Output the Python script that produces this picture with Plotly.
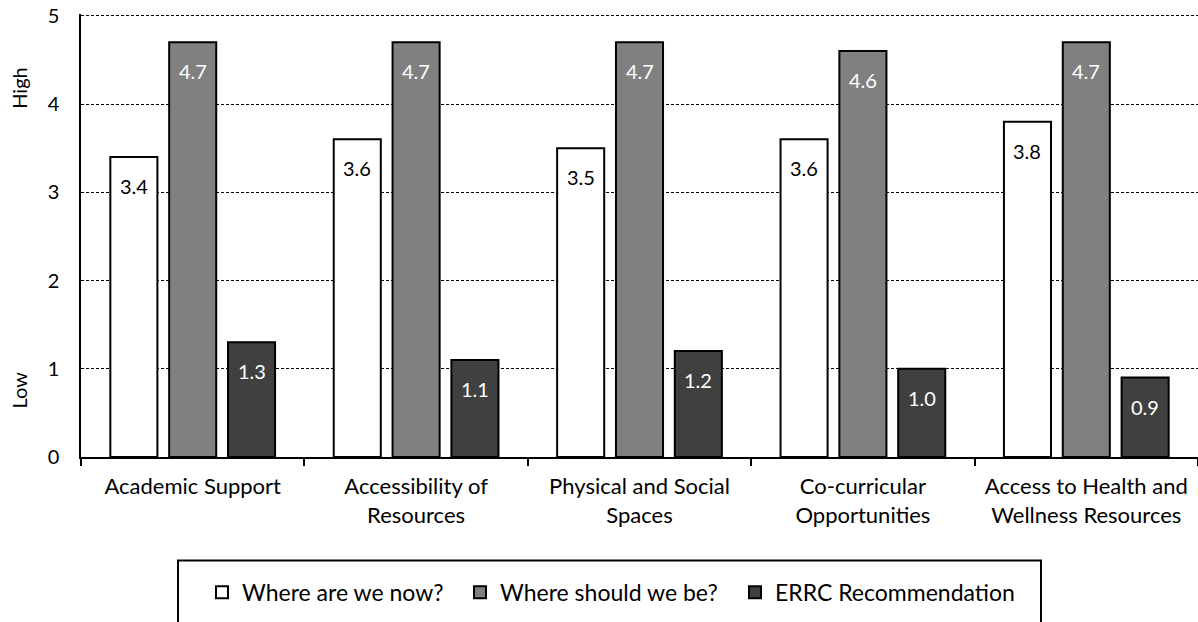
import plotly.graph_objects as go

categories = [
    "Academic Support",
    "Accessibility of<br>Resources",
    "Physical and Social<br>Spaces",
    "Co-curricular<br>Opportunities",
    "Access to Health and<br>Wellness Resources",
]
series_names = ["Where are we now?", "Where should we be?", "ERRC Recommendation"]
now_vals = [3.4, 3.6, 3.5, 3.6, 3.8]
should_vals = [4.7, 4.7, 4.7, 4.6, 4.7]
errc_vals = [1.3, 1.1, 1.2, 1.0, 0.9]
y_ticks = [0, 1, 2, 3, 4, 5]

series_vals = [now_vals, should_vals, errc_vals]
fills = ["#ffffff", "#808080", "#404040"]
label_colors = ["#000000", "#ffffff", "#ffffff"]

FONT = "Lato"
W, H = 1198, 622
Y_MAX = 5.02
ML, MR = 81, 0
MT, MB = 14.2, 164.5
BARGAP, GROUPGAP = 0.21, 0.2

plot_w = W - ML - MR
plot_h = H - MT - MB

def py(pix):  # page pixel y -> paper y
    return (H - MB - pix) / plot_h

def px(pix):  # page pixel x -> paper x
    return (pix - ML) / plot_w

legend_ids = ["legend", "legend2", "legend3"]
legend_left = [202, 460, 735]

fig = go.Figure()
for name, vals, col, lid in zip(series_names, series_vals, fills, legend_ids):
    fig.add_trace(go.Bar(
        x=categories, y=vals, name=name, legend=lid,
        marker=dict(color=col, line=dict(color="#000000", width=2)),
        hoverinfo="skip",
    ))

# value labels placed inside bars, near the top
cat_w = plot_w / len(categories)
slot = (1 - BARGAP) * cat_w / len(series_names)
ann = []
for j, (vals, tc) in enumerate(zip(series_vals, label_colors)):
    xs = (j - (len(series_names) - 1) / 2) * slot
    for c, v in zip(categories, vals):
        ann.append(dict(x=c, y=v, xref="x", yref="y", text=f"{v:.1f}",
                        showarrow=False, xshift=xs, yshift=-29,
                        yanchor="middle", xanchor="center",
                        font=dict(family=FONT, size=20, color=tc)))

ann.append(dict(text="High", textangle=-90, xref="paper", yref="paper",
                x=px(19), y=py(89), xanchor="center", yanchor="middle",
                showarrow=False, font=dict(family=FONT, size=20, color="#000")))
ann.append(dict(text="Low", textangle=-90, xref="paper", yref="paper",
                x=px(19), y=py(391), xanchor="center", yanchor="middle",
                showarrow=False, font=dict(family=FONT, size=20, color="#000")))

legends = {}
for lid, lx in zip(legend_ids, legend_left):
    legends[lid] = dict(orientation="h", x=px(lx), xanchor="left", y=py(593), yanchor="middle",
                        font=dict(family=FONT, size=23, color="#000"),
                        bgcolor="rgba(0,0,0,0)", borderwidth=0)

fig.update_layout(
    width=W, height=H,
    margin=dict(l=ML, r=MR, t=MT, b=MB, autoexpand=False),
    paper_bgcolor="#ffffff", plot_bgcolor="#ffffff",
    barmode="group", bargap=BARGAP, bargroupgap=GROUPGAP,
    font=dict(family=FONT, size=20, color="#000000"),
    annotations=ann,
    showlegend=True,
    shapes=[dict(type="rect", xref="paper", yref="paper",
                 x0=px(178), x1=px(1041), y0=py(561), y1=py(640),
                 line=dict(color="#000", width=2), fillcolor="rgba(0,0,0,0)")],
    **legends,
)
fig.update_xaxes(showline=True, linecolor="#000", linewidth=1.5,
                 ticks="outside", tickson="boundaries", ticklen=7, tickcolor="#000",
                 tickwidth=1.5, showgrid=False, ticklabelstandoff=9,
                 tickfont=dict(family=FONT, size=22, color="#000"))
fig.update_yaxes(range=[0, Y_MAX], tickvals=y_ticks, showline=True, linecolor="#000",
                 linewidth=1.5, ticks="", showgrid=True, gridcolor="#000",
                 griddash="3px,2px", gridwidth=1, zeroline=False,
                 ticklabelstandoff=16,
                 tickfont=dict(family=FONT, size=20, color="#000"))

fig.write_html("out.html", config={"displayModeBar": False},
               post_script="document.body.style.margin='0px';")
